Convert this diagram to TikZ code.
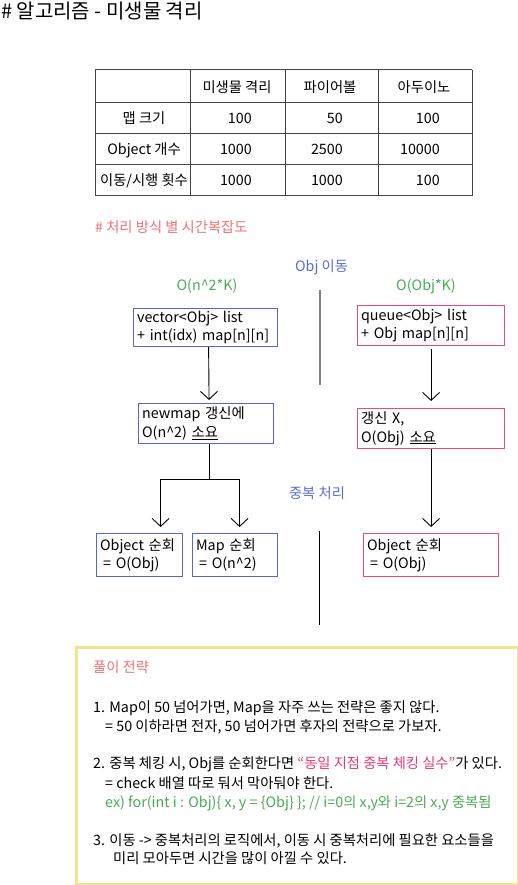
\documentclass[tikz,border=0pt]{standalone}
\usepackage{fontspec}
\setmainfont{Noto Sans CJK KR}
\usetikzlibrary{positioning, calc, arrows.meta}

\definecolor{noteRed}{HTML}{F07272}
\definecolor{labelBlue}{HTML}{5B6BD5}
\definecolor{costGreen}{HTML}{4CAA57}
\definecolor{vecBlue}{HTML}{5565D3}
\definecolor{queuePink}{HTML}{E84A7F}
\definecolor{quotePink}{HTML}{E6397C}
\definecolor{memoYellow}{HTML}{F0E58A}
\definecolor{tableGray}{HTML}{444444}

\begin{document}
\begin{tikzpicture}[
    x=1pt, y=-1pt,
    txt/.style={inner sep=0pt, font=\fontsize{14.3}{18.5}\selectfont},
    cell/.style={txt, anchor=base},
    num/.style={txt, anchor=base east},
    memo/.style={txt, anchor=base west},
    grid/.style={tableGray, line width=1pt},
    box/.style={rectangle, draw, line width=1.2pt, anchor=north west, align=left, inner xsep=3.5pt, inner ysep=0pt, font=\fontsize{14.3}{18.5}\selectfont},
    vecbox/.style={box, draw=vecBlue},
    quebox/.style={box, draw=queuePink},
    flow/.style={-{Straight Barb[length=8pt,width=17pt]}, line width=0.9pt},
    link/.style={line width=0.9pt}
]
    \useasboundingbox (0,0) rectangle (518,885);

    % --- 1. title and table ---
    \node[anchor=base west, inner sep=0pt, font=\fontsize{20}{24}\selectfont] (title) at (1,19) {\# 알고리즘 - 미생물 격리};

    \foreach \y in {70,103,134,165,196} \draw[grid] (95,\y) -- (472,\y);
    \foreach \x in {95,190,285,378,472} \draw[grid] (\x,70) -- (\x,196);

    \node[cell] (hGerm) at (237,92.5) {미생물 격리};
    \node[cell] (hFire) at (330,92.5) {파이어볼};
    \node[cell] (hArdu) at (424,92.5) {아두이노};
    \node[cell] (rMap) at (144,123.5) {맵 크기};
    \node[cell] (rObj) at (144,154.5) {Object 개수};
    \node[cell] (rMove) at (144,185.5) {이동/시행 횟수};
    \node[num] (vMapA) at (252,123.5) {100};
    \node[num] (vMapB) at (343,123.5) {50};
    \node[num] (vMapC) at (440,123.5) {100};
    \node[num] (vObjA) at (252,154.5) {1000};
    \node[num] (vObjB) at (343,154.5) {2500};
    \node[num] (vObjC) at (440,154.5) {10000};
    \node[num] (vMoveA) at (252,185.5) {1000};
    \node[num] (vMoveB) at (343,185.5) {1000};
    \node[num] (vMoveC) at (440,185.5) {100};

    % --- 2. headings ---
    \node[memo, noteRed] (cmplx) at (95,233) {\# 처리 방식 별 시간복잡도};
    \node[txt, labelBlue] (moveLbl) at (321.5,267) {Obj 이동};
    \node[txt, costGreen] (costL) at (207,286) {O(n\textasciicircum 2*K)};
    \node[txt, costGreen] (costR) at (426,286) {O(Obj*K)};
    \node[txt, labelBlue] (dupLbl) at (317,493) {중복 처리};

    \draw[gray, line width=2pt] (320,290) coordinate (divTop) -- (320,385) coordinate (divTopEnd);
    \draw[line width=1pt] (319,531) coordinate (divBot) -- (319,625) coordinate (divBotEnd);

    % --- 3. left column (vector) ---
    \node[vecbox, text width=137pt, minimum height=38pt] (vecList) at (133,308) {vector<Obj> list\\+ int(idx) map[n][n]};
    \node[vecbox, text width=128pt, minimum height=40pt] (newMap) at (138,403) {newmap 갱신에\\O(n\textasciicircum 2) \underline{소요}};
    \node[vecbox, text width=79pt, minimum height=43pt] (objLoopL) at (96,533) {Object 순회\\\hspace*{3pt}= O(Obj)};
    \node[vecbox, text width=78pt, minimum height=43pt] (mapLoop) at (192,533) {Map 순회\\\hspace*{3pt}= O(n\textasciicircum 2)};

    \draw[flow, shorten >=3pt] ([xshift=3pt]vecList.south) -- ([xshift=3pt]newMap.north);
    \coordinate (fork) at ($(newMap.south)+(3,35)$);
    \draw[link] ([xshift=3pt]newMap.south) -- (fork);
    \draw[flow, shorten >=6pt] (fork) -| ([xshift=21pt]objLoopL.north);
    \draw[flow, shorten >=6pt] (fork) -| ([xshift=4.5pt]mapLoop.north);

    % --- 4. right column (queue) ---
    \node[quebox, text width=140pt, minimum height=40pt] (queList) at (357,305) {queue<Obj> list\\+ Obj map[n][n]};
    \node[quebox, text width=140pt, minimum height=40pt] (noMap) at (357,408) {갱신 X,\\O(Obj) \underline{소요}};
    \node[quebox, text width=128pt, minimum height=43pt] (objLoopR) at (363,533) {Object 순회\\\hspace*{3pt}= O(Obj)};

    \draw[flow, shorten <=3pt, shorten >=7pt] (queList) -- (noMap);
    \draw[flow, shorten >=6pt] (noMap) -- (objLoopR);

    % --- 5. memo ---
    \node[draw=memoYellow, line width=3pt, anchor=north west, minimum width=442pt, minimum height=237pt, inner sep=0pt] (memoBox) at (74.5,645.5) {};
    \node[memo, noteRed] (tipHead) at (93,672) {풀이 전략};
    \node[memo] (tipOne) at (93,712) {1. Map이 50 넘어가면, Map을 자주 쓰는 전략은 좋지 않다.};
    \node[memo] (tipOneB) at (105,731) {= 50 이하라면 전자, 50 넘어가면 후자의 전략으로 가보자.};
    \node[memo] (tipTwo) at (93,768) {2. 중복 체킹 시, Obj를 순회한다면 \textcolor{quotePink}{“동일 지점 중복 체킹 실수”}가 있다.};
    \node[memo] (tipTwoB) at (105,788) {= check 배열 따로 둬서 막아둬야 한다.};
    \node[memo, costGreen] (tipTwoC) at (105,807) {ex) for(int i : Obj)\{ x, y = \{Obj\} \}; // i=0의 x,y와 i=2의 x,y 중복됨};
    \node[memo] (tipThree) at (93,845) {3. 이동 -> 중복처리의 로직에서, 이동 시 중복처리에 필요한 요소들을};
    \node[memo] (tipThreeB) at (113,863) {미리 모아두면 시간을 많이 아낄 수 있다.};
\end{tikzpicture}
\end{document}
